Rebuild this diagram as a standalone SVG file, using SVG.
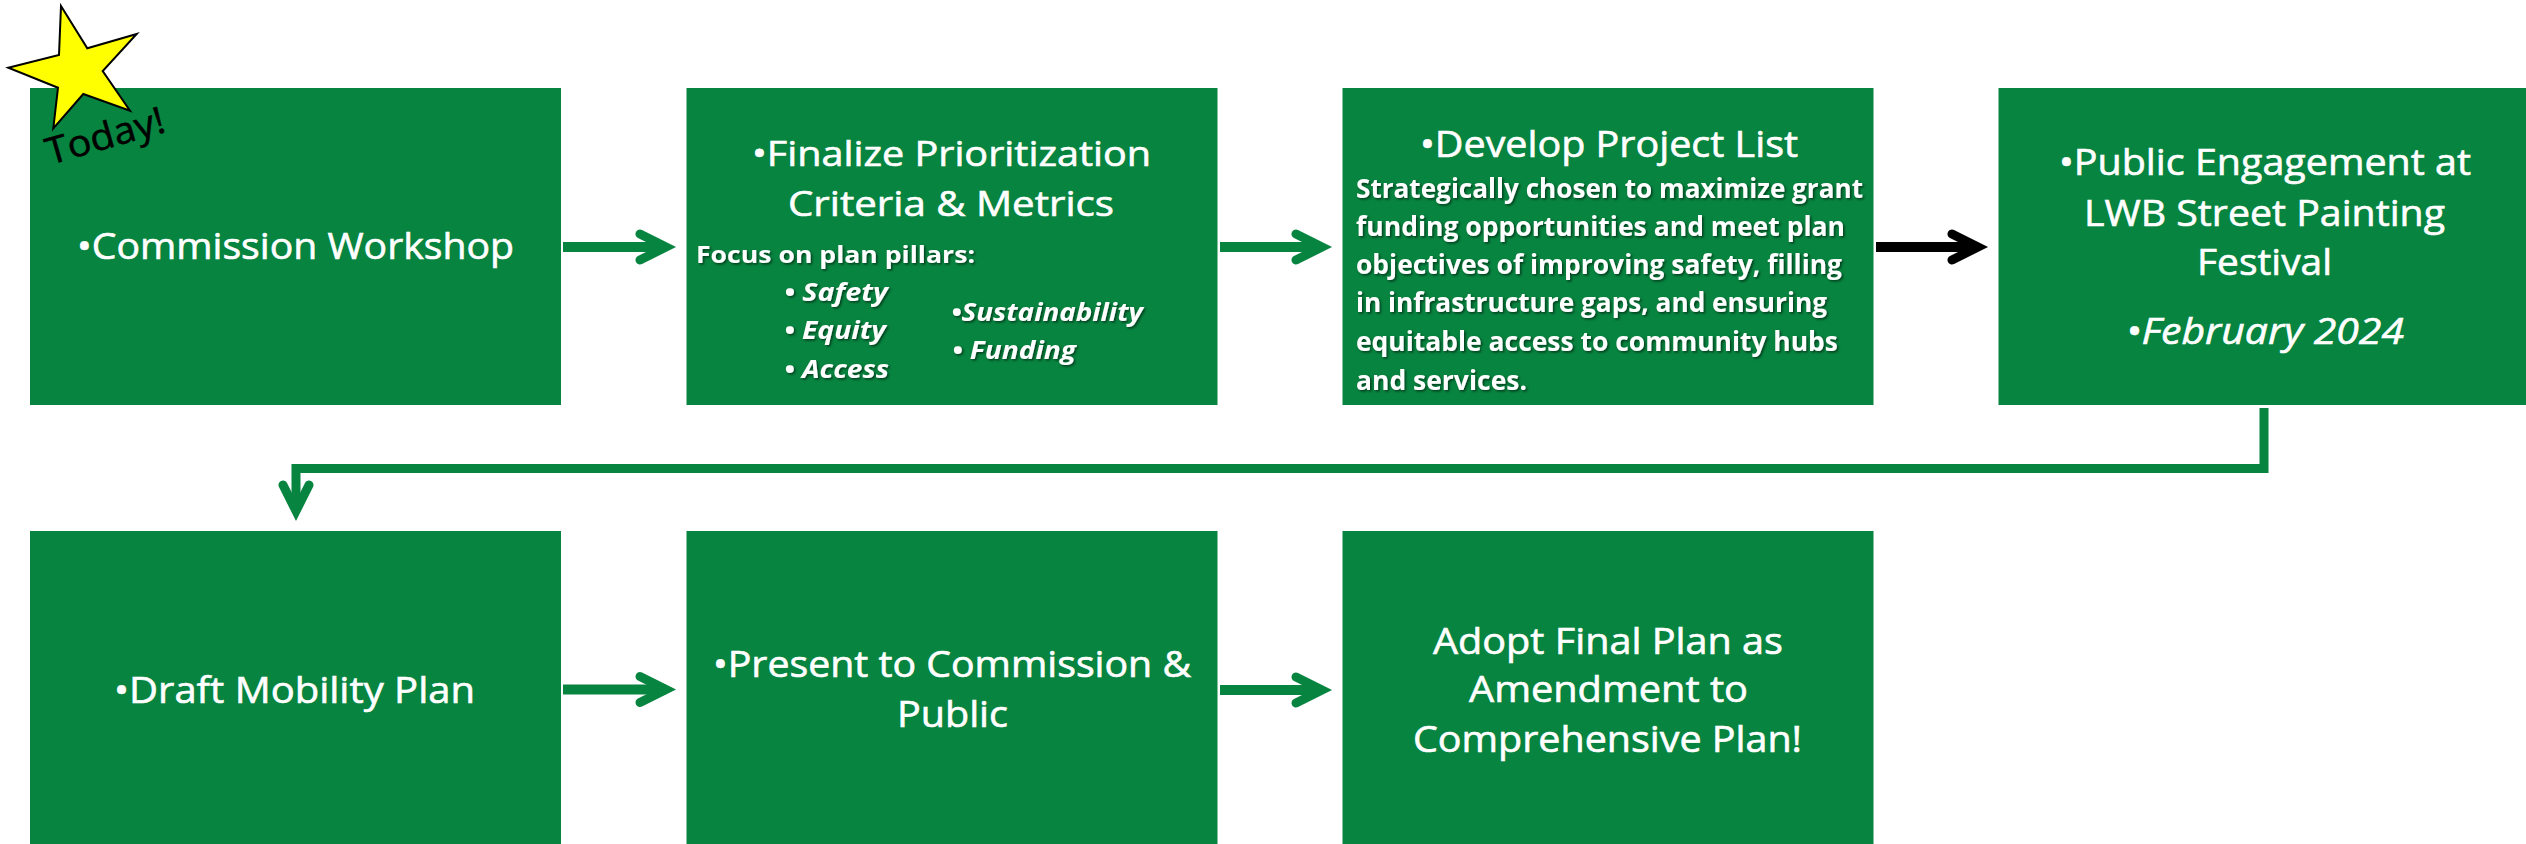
<svg xmlns="http://www.w3.org/2000/svg" width="2526" height="844" viewBox="0 0 2526 844">
  <style>
    .box { fill: #07843F; }
    .t { font-family: "Open Sans", "Noto Sans", "Liberation Sans", sans-serif; fill: #ffffff; }
    .lg { font-size: 36px; stroke: #ffffff; stroke-width: 0.6px; }
    .md { font-size: 34px; stroke: #ffffff; stroke-width: 0.6px; }
    .bd { font-size: 26px; font-weight: 700; }
    .fc { font-size: 24px; font-weight: 700; }
    .pl { font-size: 25px; font-weight: 700; font-style: italic; }
    .it { font-style: italic; }
    .conn { fill: none; stroke-linejoin: miter; }
    .green { stroke: #07843F; }
    .black { stroke: #000000; }
  </style>
  <defs>
    <filter id="sh" x="-5%" y="-30%" width="110%" height="160%">
      <feDropShadow dx="1.5" dy="1.5" stdDeviation="1" flood-color="#000000" flood-opacity="0.55"/>
    </filter>
    <marker id="chevG" markerUnits="userSpaceOnUse" viewBox="-35 -25 50 50" markerWidth="50" markerHeight="50" refX="0" refY="0" orient="auto" overflow="visible">
      <path d="M-26,-13 L0,0 L-26,13" fill="none" stroke="#07843F" stroke-width="9" stroke-linecap="round" stroke-linejoin="miter"/>
    </marker>
    <marker id="chevK" markerUnits="userSpaceOnUse" viewBox="-35 -25 50 50" markerWidth="50" markerHeight="50" refX="0" refY="0" orient="auto" overflow="visible">
      <path d="M-26,-13 L0,0 L-26,13" fill="none" stroke="#000000" stroke-width="9" stroke-linecap="round" stroke-linejoin="miter"/>
    </marker>
  </defs>

  <rect width="2526" height="844" fill="#ffffff"/>

  <!-- step 1 -->
  <g id="commission-workshop">
    <rect class="box" x="30" y="88" width="531" height="317"/>
    <text class="t lg" x="77" y="259.3" textLength="437" lengthAdjust="spacingAndGlyphs">•Commission Workshop</text>
  </g>

  <!-- step 2 -->
  <g id="finalize-criteria">
    <rect class="box" x="686.5" y="88" width="531" height="317"/>
    <text class="t md" x="752" y="165.7" textLength="399" lengthAdjust="spacingAndGlyphs">•Finalize Prioritization</text>
    <text class="t md" x="788" y="215.7" textLength="326" lengthAdjust="spacingAndGlyphs">Criteria &amp; Metrics</text>
    <g filter="url(#sh)">
      <text class="t fc" x="696" y="262.7" textLength="279" lengthAdjust="spacingAndGlyphs">Focus on plan pillars:</text>
      <text class="t pl" x="784" y="300.5" textLength="104" lengthAdjust="spacingAndGlyphs">• Safety</text>
      <text class="t pl" x="784" y="339" textLength="102" lengthAdjust="spacingAndGlyphs">• Equity</text>
      <text class="t pl" x="784" y="378.3" textLength="105" lengthAdjust="spacingAndGlyphs">• Access</text>
      <text class="t pl" x="951" y="321" textLength="192" lengthAdjust="spacingAndGlyphs">•Sustainability</text>
      <text class="t pl" x="952" y="359" textLength="124" lengthAdjust="spacingAndGlyphs">• Funding</text>
    </g>
  </g>

  <!-- step 3 -->
  <g id="project-list">
    <rect class="box" x="1342.5" y="88" width="531" height="317"/>
    <text class="t lg" x="1420" y="156.7" textLength="378" lengthAdjust="spacingAndGlyphs">•Develop Project List</text>
    <g filter="url(#sh)">
      <text class="t bd" x="1356" y="198.3" textLength="507" lengthAdjust="spacingAndGlyphs">Strategically chosen to maximize grant</text>
      <text class="t bd" x="1356" y="236" textLength="489" lengthAdjust="spacingAndGlyphs">funding opportunities and meet plan</text>
      <text class="t bd" x="1356" y="274.3" textLength="486" lengthAdjust="spacingAndGlyphs">objectives of improving safety, filling</text>
      <text class="t bd" x="1356" y="312.3" textLength="471" lengthAdjust="spacingAndGlyphs">in infrastructure gaps, and ensuring</text>
      <text class="t bd" x="1356" y="351" textLength="482" lengthAdjust="spacingAndGlyphs">equitable access to community hubs</text>
      <text class="t bd" x="1356" y="390" textLength="171" lengthAdjust="spacingAndGlyphs">and services.</text>
    </g>
  </g>

  <!-- step 4 -->
  <g id="public-engagement">
    <rect class="box" x="1998.5" y="88" width="531" height="317"/>
    <text class="t lg" x="2059" y="175" textLength="412" lengthAdjust="spacingAndGlyphs">•Public Engagement at</text>
    <text class="t lg" x="2084" y="226" textLength="361" lengthAdjust="spacingAndGlyphs">LWB Street Painting</text>
    <text class="t lg" x="2197" y="275" textLength="135" lengthAdjust="spacingAndGlyphs">Festival</text>
    <text class="t lg it" x="2126" y="344" textLength="278" lengthAdjust="spacingAndGlyphs">•February 2024</text>
  </g>

  <!-- step 5 -->
  <g id="draft-plan">
    <rect class="box" x="30" y="531" width="531" height="317"/>
    <text class="t lg" x="114" y="703.3" textLength="361" lengthAdjust="spacingAndGlyphs">•Draft Mobility Plan</text>
  </g>

  <!-- step 6 -->
  <g id="present">
    <rect class="box" x="686.5" y="531" width="531" height="317"/>
    <text class="t lg" x="713" y="676.7" textLength="478" lengthAdjust="spacingAndGlyphs">•Present to Commission &amp;</text>
    <text class="t lg" x="897" y="726.7" textLength="111" lengthAdjust="spacingAndGlyphs">Public</text>
  </g>

  <!-- step 7 -->
  <g id="adopt">
    <rect class="box" x="1342.5" y="531" width="531" height="317"/>
    <text class="t lg" x="1433" y="654" textLength="350" lengthAdjust="spacingAndGlyphs">Adopt Final Plan as</text>
    <text class="t lg" x="1469" y="701.7" textLength="279" lengthAdjust="spacingAndGlyphs">Amendment to</text>
    <text class="t lg" x="1413" y="751.7" textLength="389" lengthAdjust="spacingAndGlyphs">Comprehensive Plan!</text>
  </g>

  <!-- "today" marker on the first step -->
  <g id="today-star">
    <polygon points="61,6 87.3,48.3 136.7,34 102.7,71 130,110.7 83.3,94 53.3,128.3 58,87.7 8.3,67.7 59,55" fill="#FFFF00" stroke="#000000" stroke-width="2" stroke-linejoin="miter"/>
    <text x="50" y="165" transform="rotate(-16 50 165)" font-family="'Open Sans', 'Noto Sans', 'Liberation Sans', sans-serif" font-size="37" fill="#000000" stroke="#000000" stroke-width="0.5" textLength="122" lengthAdjust="spacingAndGlyphs">Today!</text>
  </g>

  <!-- connectors -->
  <g id="connectors">
    <line class="conn green" x1="563" y1="247" x2="666" y2="247" stroke-width="10" marker-end="url(#chevG)"/>
    <line class="conn green" x1="1220" y1="247" x2="1322" y2="247" stroke-width="10" marker-end="url(#chevG)"/>
    <line class="conn black" x1="1876" y1="247" x2="1978" y2="247" stroke-width="10" marker-end="url(#chevK)"/>
    <polyline class="conn green" points="2264,408 2264,468.5 296,468.5 296,511" stroke-width="9" marker-end="url(#chevG)"/>
    <line class="conn green" x1="563" y1="689.5" x2="666" y2="689.5" stroke-width="10" marker-end="url(#chevG)"/>
    <line class="conn green" x1="1220" y1="690" x2="1322" y2="690" stroke-width="10" marker-end="url(#chevG)"/>
  </g>
</svg>
